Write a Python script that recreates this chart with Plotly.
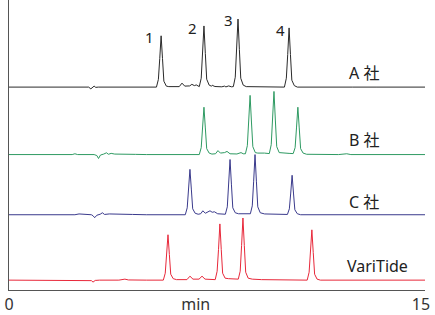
import plotly.graph_objects as go

# Chromatogram vertices (time in min, signal relative to own baseline)
a_t = [0, 2.90, 2.98, 3.05, 3.10, 3.16, 3.25, 5.37, 5.44, 5.49, 5.54, 5.59, 5.64, 5.73, 5.82,
       6.20, 6.30, 6.40, 6.58, 6.66, 6.75, 6.82, 6.92, 6.93, 7.00, 7.05, 7.10, 7.15, 7.20, 7.29, 7.37,
       7.40, 7.50, 7.75, 7.85, 7.90, 8.00, 8.10, 8.17, 8.24, 8.29, 8.34, 8.39, 8.44, 8.53, 8.64,
       10.03, 10.10, 10.15, 10.20, 10.25, 10.30, 10.39, 10.50, 12.5, 13.2, 13.4, 15.15]
a_y = [0, 0, -1.8, 0.3, 1.0, -0.3, 0, 0, 7.8, 29, 52, 29, 6, 1, 0.5,
       0.5, 4, 1, 1.2, 2.8, 1.5, 2.2, 0.5, 0.5, 9, 34, 62, 34, 8, 2, 1,
       1.8, 0.6, 0.3, 1.0, 0.2, 1.2, 0.3, 0.5, 10, 38, 69, 38, 9, 2, 0.5,
       0, 9, 33, 60, 33, 7, 1.5, 0, 0, 0.5, 0, 0]

b_t = [0, 2.30, 2.40, 2.50, 3.10, 3.20, 3.26, 3.33, 3.45, 3.55, 3.62, 3.72, 3.85, 4.20, 4.60, 5.00,
       6.93, 7.00, 7.05, 7.10, 7.15, 7.20, 7.29, 7.39, 7.52, 7.61, 7.70, 7.85, 7.94, 8.05, 8.30, 8.45, 8.53,
       8.61, 8.68, 8.73, 8.78, 8.83, 8.88, 8.97, 9.06, 9.30, 9.48, 9.55, 9.60, 9.65, 9.70, 9.75, 9.84, 9.96, 10.20,
       10.35, 10.42, 10.47, 10.52, 10.57, 10.62, 10.71, 10.84, 12.0, 12.3, 12.45, 15.15]
b_y = [0, 0, 0.8, 0, 0, -1, -4, -0.5, 0.5, 1.8, 0.3, 1.2, 0.5, 0.6, 0.2, 0,
       0, 7, 27, 48, 27, 6, 1.5, 0.5, 0.8, 4, 1.5, 2, 3.2, 0.8, 0.6, 2, 0.8,
       0.8, 9, 33, 60, 33, 8, 2, 1.5, 1.5, 1, 10, 35, 64, 35, 8, 2, 1.5, 1.2,
       1, 7, 27, 48, 27, 6, 1.5, 0.3, 0, 0.8, 0, 0]

c_t = [0, 2.40, 2.55, 2.70, 3.00, 3.06, 3.12, 3.20, 3.32, 3.40, 3.48, 3.65, 4.00, 4.50, 5.00,
       6.42, 6.49, 6.54, 6.59, 6.64, 6.69, 6.78, 6.89, 6.98, 7.06, 7.15, 7.25, 7.32, 7.40, 7.48, 7.60, 7.75,
       7.88, 7.95, 8.00, 8.05, 8.10, 8.15, 8.24, 8.36, 8.79, 8.86, 8.91, 8.96, 9.01, 9.06, 9.15, 9.31,
       10.14, 10.21, 10.26, 10.31, 10.36, 10.41, 10.50, 10.62, 15.15]
c_y = [0, 0, 0.8, 0.3, 0, -1, -3, -0.5, 0.5, 2, 0.3, 0.8, 0.8, 0.3, 0,
       0, 7, 26, 46, 26, 6, 1.5, 0.5, 1, 4, 1.5, 2.5, 4, 2.5, 3, 1, 0.5,
       0.5, 8, 31, 56, 31, 7, 2, 1, 1, 9, 34, 61, 34, 8, 2, 0.8,
       0.3, 6, 22, 40, 22, 5, 1, 0, 0]

v_t = [0, 2.90, 3.00, 3.06, 3.14, 3.30, 4.00, 4.22, 4.35, 5.00,
       5.62, 5.69, 5.74, 5.79, 5.84, 5.89, 5.98, 6.10, 6.48, 6.59, 6.70, 6.92, 7.03, 7.14,
       7.51, 7.58, 7.63, 7.68, 7.73, 7.78, 7.87, 7.99, 8.35, 8.42, 8.47, 8.52, 8.57, 8.62, 8.71, 8.86, 9.20,
       10.86, 10.93, 10.98, 11.03, 11.08, 11.13, 11.22, 11.34, 15.15]
v_y = [0, 0, -0.5, -2, -0.3, 0, 0, 1, 0.2, 0,
       0, 7, 26, 46, 26, 6, 1.5, 0.5, 0.5, 4, 1, 1, 4, 1,
       0.5, 9, 31, 57, 31, 7, 2, 1.5, 1, 9, 35, 63, 35, 8, 2, 1, 0.5,
       0, 8, 28, 51, 28, 6, 1, 0, 0]

names = ["A 社", "B 社", "C 社", "VariTide"]
offsets = [205.7, 137.3, 76.3, 10]
colors = ["#2a2a2a", "#2e9a62", "#3a3a8c", "#e8283a"]
series = [(a_t, a_y), (b_t, b_y), (c_t, c_y), (v_t, v_y)]

peak_labels = ["1", "2", "3", "4"]
peak_label_x = [5.13, 6.70, 8.01, 9.87]
peak_label_y = [256, 266, 274, 264]

fig = go.Figure()
for (t, y), off, col, nm in zip(series, offsets, colors, names):
    fig.add_trace(go.Scatter(x=t, y=[v + off for v in y], mode="lines",
                             line=dict(color=col, width=1), name=nm, showlegend=False,
                             hoverinfo="skip"))

font_fam = "Noto Sans, Noto Sans CJK JP, sans-serif"
name_x = [12.31, 12.31, 12.31, 12.24]
name_y = [220, 152, 89, 24]
for nm, x, y in zip(names, name_x, name_y):
    fig.add_annotation(x=x, y=y, text=nm, showarrow=False, xanchor="left", yanchor="middle",
                       font=dict(family=font_fam, size=16, color="#222"))
for lb, x, y in zip(peak_labels, peak_label_x, peak_label_y):
    fig.add_annotation(x=x, y=y, text=lb, showarrow=False, xanchor="center", yanchor="middle",
                       font=dict(family=font_fam, size=15, color="#222"))

fig.update_layout(
    width=435, height=315,
    margin=dict(l=9, r=10, t=0, b=21),
    paper_bgcolor="white", plot_bgcolor="white",
    xaxis=dict(range=[0, 15.15], showgrid=False, zeroline=False, showline=True,
               linecolor="#555", linewidth=1, ticks="",
               tickvals=[0, 6.8, 15], ticktext=["0", "min", "15"],
               tickfont=dict(family=font_fam, size=16, color="#333")),
    yaxis=dict(range=[0, 294], showgrid=False, zeroline=False, showline=True,
               linecolor="#555", linewidth=1, showticklabels=False, ticks=""),
)
fig.write_html("out.html")
